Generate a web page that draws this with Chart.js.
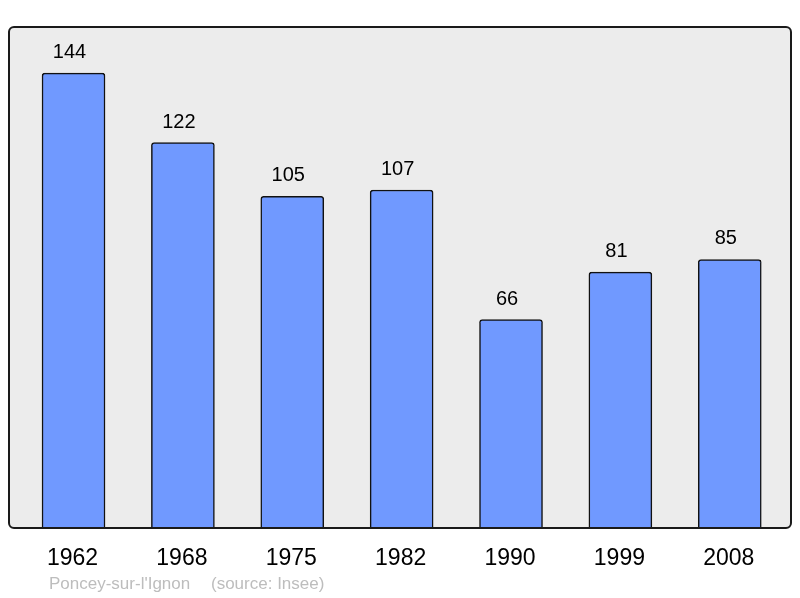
<!DOCTYPE html>
<html>
<head>
<meta charset="utf-8">
<script src="https://cdn.jsdelivr.net/npm/chart.js@4"></script>
<style>
  body { margin: 0; background: #fff; }
  #wrap { width: 800px; height: 598px; }
</style>
</head>
<body>
<div id="wrap"><canvas id="popChart"></canvas></div>
<script>
const years = ['1962', '1968', '1975', '1982', '1990', '1999', '2008'];
const population = [144, 122, 105, 107, 66, 81, 85];
const townName = "Poncey-sur-l'Ignon";
const sourceText = '(source: Insee)';

const ctx = document.getElementById('popChart');

// frame, value labels, year labels and source line
const decorations = {
    id: 'decorations',
    beforeDraw(chart) {
        const a = chart.chartArea;
        const c = chart.ctx;
        c.save();
        c.beginPath();
        c.roundRect(a.left, a.top, a.right - a.left, a.bottom - a.top, 5);
        c.fillStyle = '#ececec';
        c.fill();
        c.restore();
    },
    afterDraw(chart) {
        const a = chart.chartArea;
        const c = chart.ctx;
        const xs = chart.scales.x;
        const ys = chart.scales.y;
        c.save();
        c.beginPath();
        c.roundRect(a.left, a.top, a.right - a.left, a.bottom - a.top, 5);
        c.lineWidth = 2;
        c.strokeStyle = '#1a1a1a';
        c.stroke();

        c.fillStyle = '#000';
        c.textAlign = 'center';
        c.textBaseline = 'alphabetic';
        c.font = '20px "Liberation Sans", Arial, sans-serif';
        population.forEach(function (v, i) {
            c.fillText(String(v), xs.getPixelForValue(i) - 4, ys.getPixelForValue(v) - 15);
        });

        c.font = '23px "Liberation Sans", Arial, sans-serif';
        years.forEach(function (y, i) {
            c.fillText(y, xs.getPixelForValue(i) - 1, a.bottom + 37);
        });

        c.textAlign = 'left';
        c.fillStyle = '#bdbdbd';
        c.font = '17px "Liberation Sans", Arial, sans-serif';
        c.fillText(townName, 49, a.bottom + 61);
        c.fillText(sourceText, 211, a.bottom + 61);
        c.restore();
    }
};

new Chart(ctx, {
    type: 'bar',
    data: {
        datasets: [{
            data: population.map(function (v, i) { return { x: i, y: v }; }),
            backgroundColor: '#7099ff',
            borderColor: '#111',
            borderWidth: 1.5,
            borderRadius: 3,
            borderSkipped: 'bottom',
            barThickness: 63
        }]
    },
    plugins: [decorations],
    options: {
        responsive: true,
        maintainAspectRatio: false,
        animation: false,
        layout: { padding: { left: 9, right: 9, top: 27, bottom: 70 } },
        plugins: {
            legend: { display: false },
            tooltip: { enabled: false }
        },
        scales: {
            x: { type: 'linear', min: -0.59, max: 6.56, offset: false, grid: { offset: false }, display: false },
            y: { min: 0, max: 158.6, display: false }
        }
    }
});
</script>
</body>
</html>
